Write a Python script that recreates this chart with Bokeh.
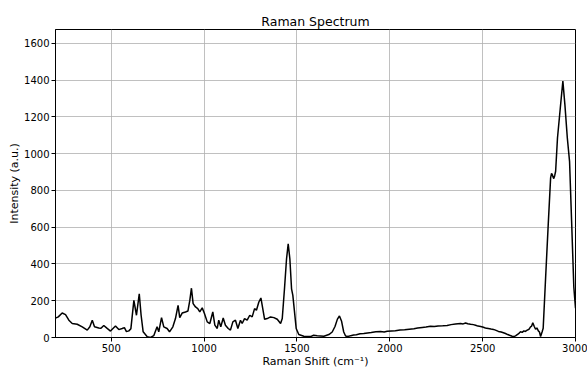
from bokeh.plotting import figure
from bokeh.models import Range1d, FixedTicker
from bokeh.embed import file_html
from bokeh.resources import INLINE

# Raman shift (cm^-1) and intensity (a.u.)
shift = [200, 215, 236, 254, 272, 290, 317, 344, 371, 385, 398, 410, 433, 445, 460, 475,
         496, 523, 541, 559, 571, 582, 595, 606, 622, 636, 651, 661, 672, 694, 712, 729,
         747, 756, 771, 783, 801, 814, 832, 846, 860, 869, 882, 900, 913, 923, 932, 941,
         954, 966, 977, 990, 1002, 1017, 1031, 1047, 1058, 1071, 1079, 1090, 1103, 1115,
         1130, 1142, 1155, 1169, 1182, 1196, 1205, 1218, 1232, 1246, 1259, 1272, 1282,
         1295, 1306, 1313, 1326, 1340, 1358, 1376, 1394, 1412, 1421, 1433, 1444, 1453,
         1462, 1471, 1478, 1487, 1496, 1510, 1537, 1573, 1590, 1609, 1645, 1672, 1690,
         1705, 1718, 1729, 1740, 1752, 1762, 1775, 1790, 1805, 1820, 1840, 1860, 1880,
         1900, 1925, 1950, 1970, 1986, 2010, 2030, 2055, 2080, 2105, 2130, 2150, 2175,
         2195, 2219, 2240, 2260, 2285, 2309, 2330, 2354, 2381, 2395, 2408, 2420, 2435,
         2450, 2462, 2475, 2489, 2500, 2515, 2530, 2545, 2558, 2569, 2585, 2600, 2612,
         2623, 2635, 2645, 2659, 2668, 2677, 2690, 2697, 2704, 2713, 2722, 2730, 2740,
         2750, 2758, 2764, 2770, 2778, 2785, 2792, 2800, 2806, 2812, 2820, 2826, 2839,
         2853, 2866, 2871, 2875, 2880, 2883, 2888, 2893, 2903, 2918, 2932, 2943, 2956,
         2968, 2979, 2991, 3000]
intensity = [105, 112, 133, 124, 94, 76, 72, 58, 40, 58, 94, 58, 52, 50, 65, 52,
             35, 63, 43, 49, 54, 32, 36, 48, 202, 121, 238, 121, 31, 4, 0, 10,
             58, 31, 108, 58, 49, 31, 58, 103, 175, 108, 133, 139, 144, 200, 268, 184,
             166, 157, 139, 161, 130, 85, 76, 139, 67, 49, 94, 58, 106, 67,
             49, 40, 85, 94, 49, 94, 76, 103, 94, 121, 112, 157, 148,
             193, 215, 175, 99, 103, 112, 108, 99, 76, 103, 265, 427, 510,
             427, 265, 229, 139, 49, 16, 7, 5, 12, 9, 7, 16, 30,
             60, 100, 117, 90, 30, 8, 5, 10, 14, 15, 20, 22, 25,
             27, 31, 32, 30, 34, 36, 37, 41, 42, 45, 48, 52, 55,
             57, 61, 60, 63, 64, 65, 70, 73, 76, 74, 79, 75, 72,
             70, 67, 62, 60, 57, 52, 49, 46, 44, 40, 33, 30, 26,
             22, 16, 12, 7, 5, 9, 18, 24, 31, 28, 36, 33, 40,
             45, 58, 62, 80, 60, 45, 52, 36, 30, 5, 30, 50, 324,
             611, 868, 892, 886, 870, 864, 880, 904, 1085, 1247, 1395, 1265, 1085,
             958, 634, 274, 160]

x_ticks = [500, 1000, 1500, 2000, 2500, 3000]
y_ticks = [0, 200, 400, 600, 800, 1000, 1200, 1400, 1600]

FONT = "DejaVu Sans"

p = figure(width=587, height=370, output_backend="svg", toolbar_location=None,
           x_range=Range1d(200, 3000), y_range=Range1d(0, 1675),
           title="Raman Spectrum",
           x_axis_label="Raman Shift (cm\u207b\u00b9)", y_axis_label="Intensity (a.u.)",
           min_border_left=55, min_border_right=12, min_border_top=29, min_border_bottom=31)

p.line(shift, intensity, line_color="black", line_width=1.5)

p.title.align = "center"
p.title.text_font = FONT
p.title.text_font_size = "12.5px"
p.title.text_font_style = "normal"
p.title.text_color = "black"
p.title.standoff = 2

p.xaxis.ticker = FixedTicker(ticks=x_ticks)
p.yaxis.ticker = FixedTicker(ticks=y_ticks)
for ax in (p.xaxis, p.yaxis):
    ax.major_label_text_font = FONT
    ax.major_label_text_font_size = "10px"
    ax.major_label_text_color = "black"
    ax.axis_label_text_font = FONT
    ax.axis_label_text_font_size = "11px"
    ax.axis_label_text_font_style = "normal"
    ax.axis_label_text_color = "black"
    ax.minor_tick_line_color = None
    ax.major_tick_out = 4
    ax.major_tick_in = 0
    ax.major_tick_line_color = "black"
    ax.axis_line_color = "black"
    ax.axis_label_standoff = 0
    ax.major_label_standoff = 2

p.outline_line_color = "black"
p.outline_line_alpha = 1
p.grid.grid_line_color = "#b0b0b0"
p.grid.grid_line_width = 0.8
p.background_fill_color = "white"
p.border_fill_color = "white"

open("out.html", "w").write(file_html(p, INLINE))
